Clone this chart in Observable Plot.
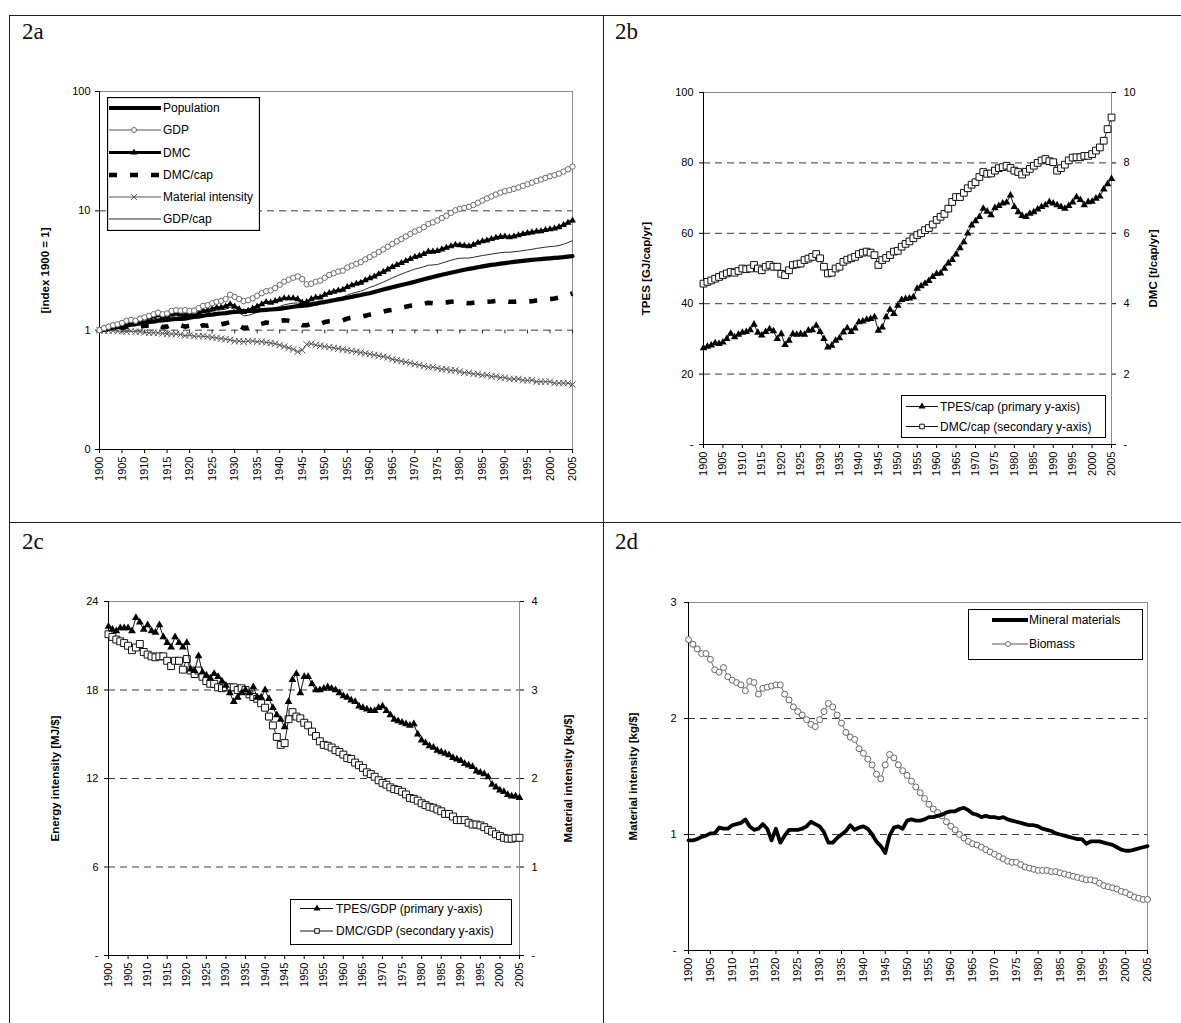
<!DOCTYPE html>
<html>
<head>
<meta charset="utf-8">
<script src="https://cdn.jsdelivr.net/npm/d3@7"></script>
<script src="https://cdn.jsdelivr.net/npm/@observablehq/plot@0.6"></script>
<style>
  html, body { margin: 0; padding: 0; background: #fff; }
  #fig { position: relative; width: 1181px; height: 1023px; background: #fff; overflow: hidden; }
  .plab { position: absolute; font-family: "Liberation Serif", "Times New Roman", serif; font-size: 23px; line-height: 1; color: #111; }
</style>
</head>
<body>
<div id="fig"></div>
<script>
// ---------------- categories ----------------
const years = Array.from({length: 106}, (_, i) => 1900 + i);
const tickYears = years.filter(y => y % 5 === 0);
const panelLabels = ["2a", "2b", "2c", "2d"];

// ---------------- 2a : index 1900 = 1 (log scale) ----------------
const a_population = [
  1.00,1.02,1.03,1.05,1.06,1.08,1.09,1.11,1.12,1.14,
  1.15,1.17,1.18,1.20,1.21,1.22,1.23,1.24,1.24,1.25,
  1.27,1.29,1.30,1.32,1.34,1.35,1.37,1.38,1.39,1.41,
  1.42,1.43,1.44,1.45,1.45,1.46,1.47,1.48,1.49,1.50,
  1.51,1.53,1.55,1.57,1.59,1.60,1.62,1.65,1.67,1.70,
  1.72,1.75,1.78,1.81,1.84,1.87,1.90,1.94,1.97,2.01,
  2.04,2.09,2.14,2.19,2.24,2.29,2.34,2.39,2.44,2.49,
  2.55,2.61,2.67,2.73,2.79,2.85,2.91,2.97,3.03,3.09,
  3.15,3.21,3.26,3.31,3.37,3.42,3.47,3.52,3.56,3.61,
  3.65,3.69,3.73,3.77,3.81,3.85,3.88,3.91,3.94,3.97,
  4.00,4.03,4.06,4.09,4.13,4.17];
const a_gdp = [
  1.00,1.04,1.07,1.10,1.12,1.15,1.20,1.22,1.20,1.25,
  1.28,1.32,1.36,1.40,1.36,1.38,1.45,1.47,1.46,1.47,
  1.45,1.46,1.53,1.60,1.62,1.68,1.73,1.76,1.82,1.98,
  1.90,1.82,1.75,1.78,1.85,1.94,2.04,2.12,2.15,2.25,
  2.40,2.55,2.65,2.75,2.82,2.68,2.42,2.45,2.55,2.60,
  2.75,2.90,3.00,3.10,3.15,3.35,3.48,3.60,3.72,3.92,
  4.10,4.30,4.52,4.75,5.00,5.28,5.55,5.80,6.10,6.40,
  6.70,6.95,7.30,7.75,8.00,8.30,8.70,9.10,9.60,10.1,
  10.4,10.6,10.8,11.2,11.7,12.2,12.7,13.2,13.7,14.2,
  14.6,14.9,15.3,15.7,16.2,16.7,17.2,17.8,18.3,18.9,
  19.5,19.9,20.5,21.3,22.3,23.5];
const a_dmc = [
  1.00,1.03,1.06,1.09,1.10,1.13,1.17,1.20,1.17,1.22,
  1.25,1.27,1.30,1.34,1.28,1.30,1.36,1.38,1.36,1.33,
  1.38,1.32,1.38,1.45,1.46,1.50,1.54,1.55,1.58,1.65,
  1.58,1.50,1.42,1.45,1.52,1.58,1.65,1.72,1.70,1.75,
  1.80,1.85,1.85,1.85,1.82,1.70,1.72,1.82,1.88,1.88,
  1.98,2.05,2.10,2.15,2.18,2.30,2.38,2.45,2.50,2.62,
  2.72,2.82,2.95,3.08,3.22,3.38,3.52,3.65,3.80,3.95,
  4.10,4.20,4.35,4.55,4.55,4.60,4.75,4.90,5.05,5.20,
  5.15,5.10,5.05,5.20,5.40,5.55,5.65,5.80,5.95,6.05,
  6.10,6.00,6.10,6.25,6.40,6.50,6.60,6.70,6.75,6.90,
  7.00,7.10,7.30,7.60,7.95,8.30];
const a_dmcCap = [
  1.00,1.01,1.03,1.04,1.04,1.05,1.07,1.08,1.05,1.07,
  1.09,1.09,1.10,1.12,1.06,1.07,1.11,1.11,1.10,1.07,
  1.09,1.03,1.06,1.10,1.09,1.11,1.12,1.12,1.14,1.17,
  1.14,1.09,1.04,1.05,1.08,1.10,1.13,1.16,1.14,1.17,
  1.19,1.21,1.20,1.18,1.15,1.10,1.10,1.13,1.15,1.13,
  1.17,1.19,1.20,1.21,1.21,1.25,1.27,1.28,1.29,1.32,
  1.35,1.37,1.40,1.43,1.46,1.48,1.51,1.54,1.57,1.60,
  1.62,1.63,1.66,1.70,1.68,1.69,1.70,1.71,1.73,1.74,
  1.73,1.70,1.68,1.70,1.72,1.73,1.73,1.74,1.76,1.76,
  1.76,1.73,1.73,1.74,1.75,1.74,1.75,1.77,1.78,1.80,
  1.82,1.84,1.88,1.92,1.97,2.03];
const a_materialIntensity = [
  1.00,0.99,0.99,0.99,0.98,0.98,0.97,0.98,0.97,0.97,
  0.96,0.95,0.95,0.95,0.94,0.93,0.93,0.93,0.92,0.90,
  0.91,0.89,0.89,0.89,0.88,0.87,0.86,0.85,0.84,0.83,
  0.81,0.81,0.80,0.81,0.81,0.80,0.80,0.79,0.78,0.77,
  0.75,0.73,0.71,0.69,0.66,0.68,0.76,0.77,0.75,0.74,
  0.73,0.72,0.71,0.70,0.69,0.68,0.67,0.66,0.65,0.64,
  0.63,0.62,0.61,0.60,0.59,0.57,0.56,0.55,0.54,0.53,
  0.52,0.51,0.50,0.49,0.49,0.48,0.47,0.47,0.46,0.46,
  0.45,0.44,0.44,0.43,0.43,0.42,0.42,0.41,0.41,0.40,
  0.40,0.39,0.39,0.39,0.38,0.38,0.38,0.37,0.37,0.37,
  0.37,0.36,0.36,0.36,0.36,0.35];
const a_gdpCap = [
  1.00,1.02,1.04,1.06,1.07,1.09,1.12,1.13,1.10,1.14,
  1.18,1.21,1.24,1.27,1.22,1.24,1.30,1.32,1.30,1.31,
  1.32,1.30,1.35,1.40,1.40,1.44,1.47,1.48,1.50,1.56,
  1.48,1.40,1.32,1.33,1.37,1.41,1.46,1.50,1.50,1.54,
  1.58,1.63,1.66,1.68,1.69,1.64,1.56,1.58,1.62,1.65,
  1.72,1.78,1.82,1.86,1.89,1.97,2.03,2.08,2.12,2.20,
  2.28,2.35,2.44,2.53,2.63,2.74,2.85,2.95,3.05,3.15,
  3.25,3.32,3.40,3.50,3.52,3.55,3.65,3.75,3.85,3.95,
  4.00,4.02,4.02,4.08,4.15,4.22,4.28,4.34,4.40,4.46,
  4.50,4.50,4.54,4.58,4.64,4.70,4.76,4.84,4.90,4.96,
  5.02,5.05,5.12,5.25,5.42,5.62];
const legendA = ["Population", "GDP", "DMC", "DMC/cap", "Material intensity", "GDP/cap"];
const titleA = "[index 1900 = 1]";
const yTicksA = [0.1, 1, 10, 100];
const yTickLabelsA = ["0", "1", "10", "100"];

// ---------------- 2b : per capita ----------------
const b_tpesCap = [ // GJ/cap/yr (primary axis)
  27.4,27.8,28.2,28.8,28.6,29.0,30.0,31.5,30.5,31.2,
  31.8,32.0,32.5,34.1,31.8,31.0,32.0,32.8,32.2,30.0,
  31.4,28.3,29.5,31.4,31.2,31.4,31.2,32.4,32.5,33.8,
  32.0,30.0,27.6,28.1,29.5,30.2,31.9,33.1,32.0,33.0,
  34.8,35.0,35.5,35.7,36.2,32.4,33.3,36.2,38.3,37.1,
  39.5,41.1,41.4,41.5,41.9,44.3,45.0,45.7,46.5,47.6,
  48.5,48.6,50.0,51.5,52.5,54.0,55.8,57.5,60.0,62.3,
  63.5,64.7,67.0,66.2,65.2,67.2,67.8,68.5,68.8,70.8,
  67.5,66.0,65.0,64.7,65.6,66.0,66.8,67.5,68.0,68.9,
  68.5,68.0,67.5,67.0,67.8,68.8,70.3,69.5,68.0,68.9,
  69.0,69.9,70.5,72.5,74.0,75.5];
const b_dmcCap = [ // t/cap/yr (secondary axis)
  4.57,4.62,4.66,4.71,4.76,4.81,4.86,4.90,4.88,4.93,
  5.00,4.98,5.00,5.10,5.00,4.95,5.05,5.10,5.05,5.05,
  4.85,4.81,4.95,5.10,5.12,5.14,5.24,5.28,5.33,5.41,
  5.29,5.05,4.86,4.88,5.00,5.05,5.19,5.25,5.29,5.33,
  5.41,5.45,5.48,5.45,5.38,5.10,5.24,5.30,5.38,5.48,
  5.50,5.62,5.70,5.77,5.86,5.95,6.00,6.09,6.15,6.25,
  6.38,6.47,6.55,6.70,6.89,7.03,7.03,7.15,7.28,7.38,
  7.45,7.60,7.74,7.69,7.70,7.78,7.85,7.88,7.92,7.86,
  7.78,7.74,7.67,7.75,7.83,7.92,8.00,8.07,8.11,8.05,
  8.02,7.78,7.85,7.95,8.07,8.15,8.16,8.16,8.20,8.20,
  8.25,8.35,8.44,8.63,8.96,9.29];
const legendB = ["TPES/cap (primary y-axis)", "DMC/cap (secondary y-axis)"];
const titlesB = ["TPES [GJ/cap/yr]", "DMC [t/cap/yr]"];
const yTicksB = [0, 20, 40, 60, 80, 100];
const yTicksB2 = [0, 2, 4, 6, 8, 10];

// ---------------- 2c : intensities ----------------
const c_tpesGdp = [ // MJ/$ (primary axis)
  22.3,22.1,22.0,22.2,22.2,22.2,22.0,22.9,22.6,22.1,
  22.4,22.0,21.9,22.4,21.6,21.2,20.9,21.6,21.2,20.9,
  21.2,19.4,19.3,20.3,19.2,19.0,18.8,19.1,18.9,18.6,
  18.3,17.8,17.2,17.5,17.8,18.0,17.8,18.2,17.5,17.5,
  18.0,17.4,16.8,16.3,16.0,15.5,17.2,18.7,19.1,17.8,
  18.9,18.9,18.4,18.0,18.0,18.1,18.2,18.1,18.0,17.8,
  17.6,17.5,17.3,17.2,16.9,16.8,16.7,16.6,16.6,16.8,
  16.9,16.6,16.3,16.0,15.9,15.8,15.7,15.6,15.7,15.0,
  14.6,14.4,14.2,14.1,13.9,13.8,13.7,13.6,13.4,13.3,
  13.2,13.0,12.9,12.8,12.5,12.4,12.3,12.1,11.6,11.4,
  11.2,11.1,10.9,10.8,10.8,10.7];
const c_dmcGdp = [ // kg/$ (secondary axis)
  3.63,3.60,3.57,3.55,3.53,3.50,3.45,3.48,3.52,3.43,
  3.40,3.38,3.37,3.38,3.38,3.33,3.27,3.33,3.33,3.23,
  3.35,3.22,3.18,3.22,3.15,3.10,3.07,3.07,3.03,3.02,
  3.03,3.03,3.03,3.00,3.02,3.00,2.95,2.92,2.90,2.85,
  2.80,2.70,2.60,2.47,2.38,2.40,2.67,2.75,2.70,2.68,
  2.63,2.60,2.53,2.48,2.42,2.38,2.37,2.35,2.32,2.30,
  2.27,2.23,2.22,2.18,2.15,2.12,2.07,2.05,2.02,1.98,
  1.95,1.93,1.90,1.88,1.87,1.85,1.82,1.78,1.77,1.75,
  1.72,1.70,1.68,1.67,1.65,1.63,1.60,1.60,1.57,1.53,
  1.53,1.53,1.50,1.48,1.48,1.47,1.45,1.42,1.40,1.37,
  1.35,1.33,1.32,1.32,1.33,1.33];
const legendC = ["TPES/GDP (primary y-axis)", "DMC/GDP (secondary y-axis)"];
const titlesC = ["Energy intensity [MJ/$]", "Material intensity [kg/$]"];
const yTicksC = [0, 6, 12, 18, 24];
const yTicksC2 = [0, 1, 2, 3, 4];

// ---------------- 2d : material intensity by material ----------------
const d_mineral = [
  0.95,0.95,0.96,0.98,0.99,1.01,1.01,1.06,1.05,1.05,
  1.08,1.09,1.10,1.13,1.07,1.04,1.05,1.09,1.05,0.95,
  1.05,0.93,0.99,1.04,1.04,1.04,1.05,1.07,1.11,1.09,
  1.07,1.02,0.93,0.93,0.97,1.00,1.03,1.08,1.04,1.06,
  1.07,1.05,1.00,0.94,0.90,0.84,0.99,1.06,1.07,1.05,
  1.12,1.13,1.12,1.12,1.13,1.15,1.15,1.16,1.17,1.19,
  1.20,1.20,1.22,1.23,1.21,1.18,1.17,1.15,1.16,1.15,
  1.15,1.14,1.15,1.13,1.12,1.11,1.10,1.09,1.08,1.08,
  1.07,1.05,1.04,1.03,1.01,1.00,0.99,0.98,0.97,0.96,
  0.96,0.92,0.94,0.94,0.94,0.93,0.92,0.91,0.89,0.87,
  0.86,0.86,0.87,0.88,0.89,0.90];
const d_biomass = [
  2.68,2.64,2.60,2.56,2.56,2.51,2.42,2.40,2.44,2.36,
  2.33,2.31,2.29,2.24,2.32,2.31,2.21,2.26,2.27,2.28,
  2.29,2.29,2.21,2.16,2.10,2.06,2.03,1.99,1.95,1.93,
  1.99,2.06,2.13,2.10,2.03,1.96,1.88,1.84,1.82,1.74,
  1.70,1.65,1.60,1.52,1.48,1.60,1.69,1.66,1.60,1.55,
  1.51,1.46,1.41,1.36,1.31,1.26,1.22,1.19,1.16,1.11,
  1.07,1.04,1.00,0.97,0.94,0.92,0.91,0.89,0.87,0.85,
  0.83,0.81,0.79,0.77,0.76,0.76,0.74,0.72,0.71,0.70,
  0.69,0.69,0.69,0.68,0.68,0.67,0.66,0.65,0.64,0.63,
  0.62,0.61,0.61,0.60,0.58,0.56,0.55,0.54,0.53,0.51,
  0.50,0.48,0.46,0.45,0.44,0.44];
const legendD = ["Mineral materials", "Biomass"];
const titleD = "Material intensity [kg/$]";
const yTicksD = [0, 1, 2, 3];

// ---------------- rendering ----------------
const fig = document.getElementById("fig");
const FONT = '"Liberation Sans", Arial, Helvetica, sans-serif';
const rows = arr => years.map((year, i) => ({year, v: arr[i]}));
const dash = "7,5";
const gridColor = "#3a3a3a";
const frameColor = "#8c8c8c";
const fmtNum = d => (d === 0 ? "-" : String(+d.toFixed(2)));

function place(el, left, top) {
  el.style.position = "absolute";
  el.style.left = left + "px";
  el.style.top = top + "px";
  fig.appendChild(el);
}
function rule(l, t, w, h) {
  const d = document.createElement("div");
  d.style.cssText = `position:absolute;left:${l}px;top:${t}px;width:${w}px;height:${h}px;background:#1e1e1e`;
  fig.appendChild(d);
}
// table-like borders
rule(9, 15, 1172, 1);
rule(9, 15, 1, 1008);
rule(603, 15, 1, 1008);
rule(9, 522, 1172, 1);

// panel labels
[[22, 20], [615, 20], [22, 530], [615, 530]].forEach(([l, t], i) => {
  const d = document.createElement("div");
  d.className = "plab";
  d.textContent = panelLabels[i];
  d.style.left = l + "px";
  d.style.top = t + "px";
  fig.appendChild(d);
});

const baseStyle = {fontFamily: FONT, fontSize: "11px", background: "transparent", overflow: "visible", color: "#000"};
const xAxis = () => Plot.axisX({ticks: tickYears, tickFormat: d => String(d), tickRotate: -90, tickSize: 4, tickPadding: 3, label: null});
const title = (t, anchor, dx) => Plot.text([t], {text: d => d, frameAnchor: anchor, textAnchor: "middle", lineAnchor: "middle", dx, rotate: -90, fontWeight: "bold", fontSize: 11.5});

// ---- 2a ----
const pA = Plot.plot({
  width: 592, height: 506, marginLeft: 89, marginRight: 30, marginTop: 75, marginBottom: 73,
  style: baseStyle,
  x: {domain: [1900, 2005], axis: null},
  y: {type: "log", domain: [0.1, 100], axis: null},
  marks: [
    Plot.frame({stroke: frameColor}),
    Plot.ruleY([1, 10], {stroke: gridColor, strokeDasharray: dash}),
    Plot.ruleX(tickYears, {x: d => d, y1: 1, y2: 0.93, stroke: "#222"}),
    Plot.ruleX([1900], {stroke: "#000"}),
    Plot.ruleY([0.1], {stroke: "#000"}),
    Plot.axisY({ticks: yTicksA, tickFormat: d => yTickLabelsA[yTicksA.indexOf(d)], tickSize: 4, tickPadding: 5, label: null}),
    xAxis(),
    title(titleA, "left", -54),
    Plot.line(rows(a_gdpCap), {x: "year", y: "v", stroke: "#2a2a2a", strokeWidth: 1}),
    Plot.line(rows(a_materialIntensity), {x: "year", y: "v", stroke: "#5a5a5a", strokeWidth: 1}),
    Plot.dot(rows(a_materialIntensity), {x: "year", y: "v", symbol: "times", r: 3, stroke: "#555", strokeWidth: 1}),
    Plot.line(rows(a_dmcCap), {x: "year", y: "v", stroke: "#000", strokeWidth: 4.6, strokeDasharray: "8,13", strokeLinecap: "butt"}),
    Plot.line(rows(a_population), {x: "year", y: "v", stroke: "#000", strokeWidth: 4.2}),
    Plot.line(rows(a_dmc), {x: "year", y: "v", stroke: "#000", strokeWidth: 2.8}),
    Plot.dot(rows(a_dmc), {x: "year", y: "v", symbol: "triangle", r: 2.6, fill: "#000"}),
    Plot.line(rows(a_gdp), {x: "year", y: "v", stroke: "#6f6f6f", strokeWidth: 1}),
    Plot.dot(rows(a_gdp), {x: "year", y: "v", r: 2.7, stroke: "#6a6a6a", fill: "#fff", strokeWidth: 1})
  ]
});
place(pA, 10, 16);

// ---- 2b ----
const fB = yTicksB[yTicksB.length - 1] / yTicksB2[yTicksB2.length - 1];
const pB = Plot.plot({
  width: 577, height: 506, marginLeft: 99, marginRight: 70, marginTop: 76, marginBottom: 78,
  style: baseStyle,
  x: {domain: [1900, 2005], axis: null},
  y: {domain: [0, 100], axis: null},
  marks: [
    Plot.frame({stroke: frameColor}),
    Plot.ruleY(yTicksB.slice(1, -1), {stroke: gridColor, strokeDasharray: dash}),
    Plot.ruleX([1900], {stroke: "#000"}),
    Plot.ruleY([0], {stroke: "#000"}),
    Plot.axisY({ticks: yTicksB, tickFormat: fmtNum, tickSize: 4, tickPadding: 6, label: null}),
    Plot.axisY({anchor: "right", ticks: yTicksB2.map(v => v * fB), tickFormat: d => fmtNum(d / fB), tickSize: 4, tickPadding: 8, label: null}),
    xAxis(),
    title(titlesB[0], "left", -57),
    title(titlesB[1], "right", 42),
    Plot.line(rows(b_dmcCap), {x: "year", y: d => d.v * fB, stroke: "#222", strokeWidth: 1}),
    Plot.dot(rows(b_dmcCap), {x: "year", y: d => d.v * fB, symbol: "square", r: 3.8, fill: "#fff", stroke: "#111", strokeWidth: 1}),
    Plot.line(rows(b_tpesCap), {x: "year", y: "v", stroke: "#111", strokeWidth: 1}),
    Plot.dot(rows(b_tpesCap), {x: "year", y: "v", symbol: "triangle", r: 2.8, fill: "#000"})
  ]
});
place(pB, 604, 16);

// ---- 2c ----
const fC = yTicksC[yTicksC.length - 1] / yTicksC2[yTicksC2.length - 1];
const pC = Plot.plot({
  width: 592, height: 499, marginLeft: 98, marginRight: 83, marginTop: 77, marginBottom: 68,
  style: baseStyle,
  x: {domain: [1900, 2005], axis: null},
  y: {domain: [0, 24], axis: null},
  marks: [
    Plot.frame({stroke: frameColor}),
    Plot.ruleY(yTicksC.slice(1, -1), {stroke: gridColor, strokeDasharray: dash}),
    Plot.ruleX([1900], {stroke: "#000"}),
    Plot.ruleY([0], {stroke: "#000"}),
    Plot.axisY({ticks: yTicksC, tickFormat: fmtNum, tickSize: 4, tickPadding: 6, label: null}),
    Plot.axisY({anchor: "right", ticks: yTicksC2.map(v => v * fC), tickFormat: d => fmtNum(d / fC), tickSize: 4, tickPadding: 8, label: null}),
    xAxis(),
    title(titlesC[0], "left", -53),
    title(titlesC[1], "right", 49),
    Plot.line(rows(c_dmcGdp), {x: "year", y: d => d.v * fC, stroke: "#222", strokeWidth: 1}),
    Plot.dot(rows(c_dmcGdp), {x: "year", y: d => d.v * fC, symbol: "square", r: 3.9, fill: "#fff", stroke: "#111", strokeWidth: 1}),
    Plot.line(rows(c_tpesGdp), {x: "year", y: "v", stroke: "#111", strokeWidth: 1}),
    Plot.dot(rows(c_tpesGdp), {x: "year", y: "v", symbol: "triangle", r: 2.9, fill: "#000"})
  ]
});
place(pC, 10, 524);

// ---- 2d ----
const pD = Plot.plot({
  width: 577, height: 499, marginLeft: 84, marginRight: 34, marginTop: 78, marginBottom: 73,
  style: baseStyle,
  x: {domain: [1900, 2005], axis: null},
  y: {domain: [0, 3], axis: null},
  marks: [
    Plot.frame({stroke: frameColor}),
    Plot.ruleY(yTicksD.slice(1, -1), {stroke: gridColor, strokeDasharray: dash}),
    Plot.ruleX([1900], {stroke: "#000"}),
    Plot.ruleY([0], {stroke: "#000"}),
    Plot.axisY({ticks: yTicksD, tickFormat: fmtNum, tickSize: 4, tickPadding: 8, label: null}),
    xAxis(),
    title(titleD, "left", -55),
    Plot.line(rows(d_biomass), {x: "year", y: "v", stroke: "#6f6f6f", strokeWidth: 1}),
    Plot.dot(rows(d_biomass), {x: "year", y: "v", r: 3, fill: "#fff", stroke: "#666", strokeWidth: 1}),
    Plot.line(rows(d_mineral), {x: "year", y: "v", stroke: "#000", strokeWidth: 3.8, strokeLinejoin: "round"})
  ]
});
place(pD, 604, 524);

// ---------------- legends ----------------
const symbols = {circle: d3.symbolCircle, triangle: d3.symbolTriangle, square: d3.symbolSquare, times: d3.symbolTimes};
function legend({left, top, width, height, border, x0, x1, mx, tx, items}) {
  const svg = d3.create("svg").attr("width", width).attr("height", height);
  svg.append("rect").attr("x", 0.5).attr("y", 0.5).attr("width", width - 1).attr("height", height - 1)
    .attr("fill", "#fff").attr("stroke", "#000").attr("stroke-width", border);
  for (const it of items) {
    svg.append("line").attr("x1", x0).attr("x2", x1).attr("y1", it.y).attr("y2", it.y)
      .attr("stroke", it.stroke).attr("stroke-width", it.sw).attr("stroke-dasharray", it.dash || null);
    if (it.symbol) {
      svg.append("path").attr("d", d3.symbol(symbols[it.symbol], it.r * it.r * Math.PI)())
        .attr("transform", `translate(${mx},${it.y})`)
        .attr("fill", it.fill || "none").attr("stroke", it.mstroke || "none").attr("stroke-width", 1);
    }
    svg.append("text").attr("x", tx).attr("y", it.y).attr("dy", "0.36em")
      .attr("font-family", FONT).attr("font-size", 12).attr("fill", "#000").text(it.label);
  }
  place(svg.node(), left, top);
}

legend({left: 107, top: 97, width: 153, height: 134, border: 1.3, x0: 2, x1: 54, mx: 27, tx: 56, items: [
  {y: 11, label: legendA[0], stroke: "#000", sw: 4.2},
  {y: 33, label: legendA[1], stroke: "#555", sw: 1, symbol: "circle", r: 2.5, fill: "#fff", mstroke: "#666"},
  {y: 55.5, label: legendA[2], stroke: "#000", sw: 2.8, symbol: "triangle", r: 2.5, fill: "#000"},
  {y: 78, label: legendA[3], stroke: "#000", sw: 4.6, dash: "8,13"},
  {y: 100, label: legendA[4], stroke: "#555", sw: 1, symbol: "times", r: 2.8, mstroke: "#555"},
  {y: 122, label: legendA[5], stroke: "#2a2a2a", sw: 1}
]});
legend({left: 901, top: 395, width: 205, height: 43, border: 1, x0: 5, x1: 37, mx: 21, tx: 39, items: [
  {y: 11.5, label: legendB[0], stroke: "#111", sw: 1, symbol: "triangle", r: 2.6, fill: "#000"},
  {y: 31.5, label: legendB[1], stroke: "#111", sw: 1, symbol: "square", r: 2.6, fill: "#fff", mstroke: "#111"}
]});
legend({left: 290, top: 899, width: 222, height: 46, border: 1, x0: 10, x1: 43, mx: 27, tx: 46, items: [
  {y: 9.5, label: legendC[0], stroke: "#111", sw: 1, symbol: "triangle", r: 2.6, fill: "#000"},
  {y: 32, label: legendC[1], stroke: "#111", sw: 1, symbol: "square", r: 2.6, fill: "#fff", mstroke: "#111"}
]});
legend({left: 968, top: 609, width: 175, height: 51, border: 1, x0: 24, x1: 60, mx: 40, tx: 61, items: [
  {y: 11, label: legendD[0], stroke: "#000", sw: 3.8},
  {y: 35, label: legendD[1], stroke: "#555", sw: 1, symbol: "circle", r: 2.5, fill: "#fff", mstroke: "#666"}
]});
</script>
</body>
</html>
